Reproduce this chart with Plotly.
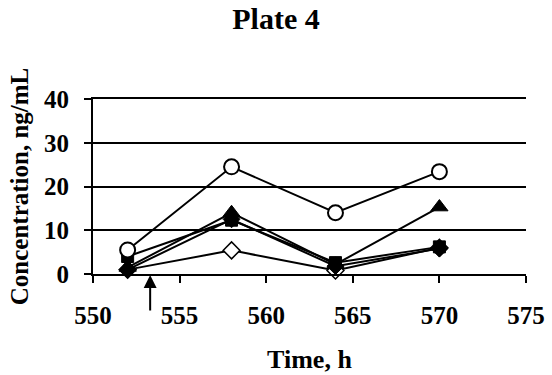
import plotly.graph_objects as go

time_h = [552, 558, 564, 570]
open_diamond = [1.0, 5.4, 0.8, 6.0]
filled_diamond = [1.0, 12.5, 1.8, 5.8]
filled_square = [4.0, 12.3, 2.6, 6.2]
filled_triangle = [1.5, 14.0, 2.2, 15.3]
open_circle = [5.5, 24.5, 14.0, 23.4]
arrow_time = 553.3

FONT = "Liberation Serif"

fig = go.Figure()

def add(y, symbol, size, fill, lw):
    fig.add_trace(go.Scatter(
        x=time_h, y=y, mode="lines+markers",
        line=dict(color="black", width=2),
        marker=dict(symbol=symbol, size=size, color=fill,
                    line=dict(color="black", width=lw)),
        showlegend=False, cliponaxis=False))

add(open_diamond, "diamond", 13, "white", 1.5)
add(filled_diamond, "diamond", 13, "black", 1)
add(filled_square, "square", 12, "black", 1)
add(filled_triangle, "triangle-up", 15, "black", 1)
add(open_circle, "circle", 15, "white", 2)

fig.add_annotation(x=arrow_time, y=0, xref="x", yref="y", text="",
                   showarrow=True, ax=0, ay=38, axref="pixel", ayref="pixel",
                   arrowhead=2, arrowsize=1.3, arrowwidth=2, arrowcolor="black",
                   standoff=1)

fig.update_layout(
    width=552, height=375,
    margin=dict(l=93, r=26, t=99, b=101, autoexpand=False),
    paper_bgcolor="white", plot_bgcolor="white",
    font=dict(family=FONT, color="black"),
    title=dict(text="<b>Plate 4</b>", x=0.5, xanchor="center", y=0.95,
               yanchor="middle", font=dict(family=FONT, size=30, color="black")),
    xaxis=dict(range=[550, 575], dtick=5, tick0=550, showgrid=False,
               showline=True, linecolor="black", linewidth=2, mirror=True,
               ticks="outside", ticklen=7, tickwidth=2, tickcolor="black",
               tickfont=dict(family=FONT, size=25, color="black", weight="bold"),
               ticklabelstandoff=11, zeroline=False, automargin=False,
               title=dict(text="<b>Time, h</b>", standoff=22,
                          font=dict(family=FONT, size=26, color="black"))),
    yaxis=dict(range=[0, 40], dtick=10, tick0=0, showgrid=True,
               gridcolor="black", gridwidth=2,
               showline=True, linecolor="black", linewidth=2,
               ticks="outside", ticklen=7, tickwidth=2, tickcolor="black",
               tickfont=dict(family=FONT, size=25, color="black", weight="bold"),
               ticklabelstandoff=10, zeroline=False, automargin=False,
               title=dict(text="<b>Concentration, ng/mL</b>", standoff=8,
                          font=dict(family=FONT, size=25, color="black"))),
)

fig.write_html("out.html")
